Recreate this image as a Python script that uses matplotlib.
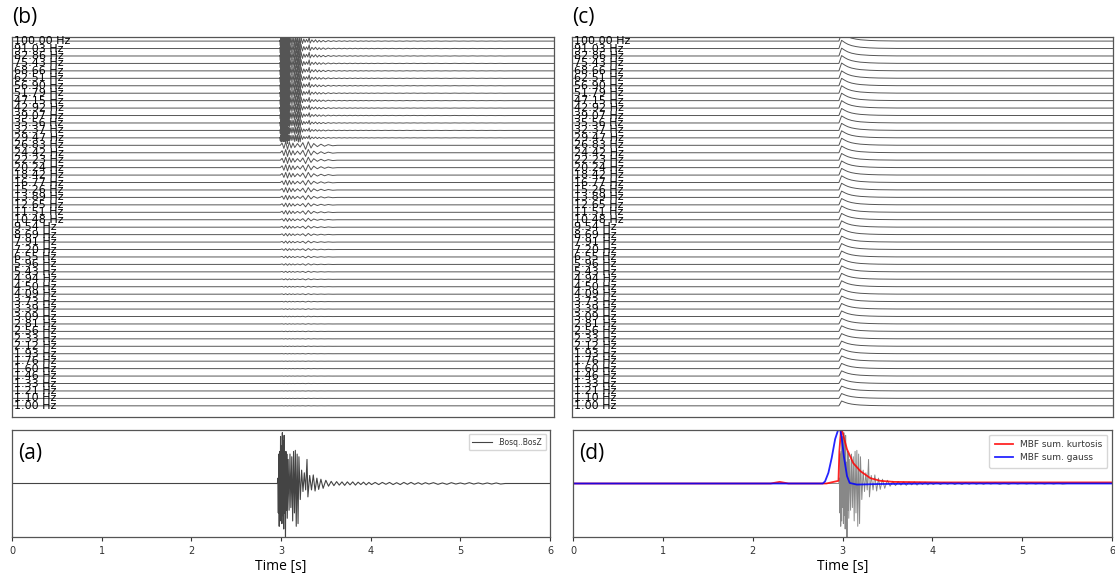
import numpy as np
import matplotlib
matplotlib.use('Agg')
import matplotlib.pyplot as plt
import matplotlib.transforms as mtransforms

# filter bank centre frequencies (labels of the traces in b and c)
freqs = [100.00, 91.03, 82.86, 75.43, 68.66, 62.51, 56.90, 51.79, 47.15, 42.92,
         39.07, 35.56, 32.37, 29.47, 26.83, 24.42, 22.23, 20.24, 18.42, 16.77,
         15.26, 13.89, 12.65, 11.51, 10.48, 9.54, 8.69, 7.91, 7.20, 6.55,
         5.96, 5.43, 4.94, 4.50, 4.09, 3.73, 3.39, 3.09, 2.81, 2.56,
         2.33, 2.12, 1.93, 1.76, 1.60, 1.46, 1.33, 1.21, 1.10, 1.00]

# raw seismogram (extremes)
sig_t = [0.0, 2.96, 2.965, 2.970, 2.975, 2.980, 2.985, 2.990, 2.995, 3.000,
         3.005, 3.010, 3.015, 3.020, 3.025, 3.030, 3.035, 3.040, 3.045, 3.050,
         3.055, 3.060, 3.065, 3.070, 3.080, 3.090, 3.100, 3.110, 3.120, 3.130,
         3.140, 3.150, 3.160, 3.170, 3.180, 3.190, 3.200, 3.215, 3.230, 3.245,
         3.260, 3.275, 3.290, 3.300, 3.320, 3.340, 3.360, 3.380, 3.400, 3.420,
         3.445, 3.470, 3.500, 3.530, 3.560, 3.590, 3.620, 3.650, 3.680, 3.710,
         3.740, 3.770, 3.800, 3.830, 3.860, 3.890, 3.920, 3.950, 3.980, 4.010,
         4.050, 4.090, 4.130, 4.170, 4.210, 4.250, 4.290, 4.330, 4.370, 4.410,
         4.450, 4.490, 4.530, 4.570, 4.610, 4.650, 4.700, 4.750, 4.800, 4.850,
         4.900, 4.950, 5.000, 5.050, 5.100, 5.150, 5.200, 5.250, 5.300, 5.350,
         5.400, 5.450, 5.500, 6.0]
sig_v = [0.0, 0.0, 0.10, -0.55, 0.55, -0.80, 0.60, -0.70, 0.88, -0.45,
         0.70, -0.75, 0.95, -0.60, 0.80, -0.85, 0.90, -0.55, 0.40, -1.05,
         0.60, -0.50, 0.55, -0.65, 0.45, -0.50, 0.55, -0.45, 0.50, -0.70,
         0.60, -0.55, 0.62, -0.80, 0.55, -0.75, 0.50, -0.30, 0.25, -0.15,
         0.20, -0.12, 0.45, -0.25, 0.15, -0.12, 0.16, -0.14, 0.10, -0.11,
         0.08, -0.09, 0.06, -0.05, 0.04, -0.04, 0.035, -0.03, 0.03, -0.035,
         0.03, -0.025, 0.03, -0.03, 0.025, -0.02, 0.025, -0.025, 0.02, -0.02,
         0.02, -0.02, 0.02, -0.015, 0.02, -0.02, 0.015, -0.02, 0.02, -0.015,
         0.02, -0.015, 0.015, -0.015, 0.015, -0.01, 0.015, -0.015, 0.01, -0.015,
         0.015, -0.01, 0.01, -0.01, 0.015, -0.01, 0.01, -0.01, 0.01, -0.01,
         0.01, -0.01, 0.0, 0.0]

# slower wiggle seen on the mid/low frequency traces of panel b
wig_t = [0.0, 2.97, 2.99, 3.01, 3.03, 3.05, 3.07, 3.09, 3.11, 3.13, 3.16, 3.19,
         3.22, 3.25, 3.28, 3.31, 3.34, 3.38, 3.42, 3.46, 3.50, 3.55, 3.60, 6.0]
wig_v = [0.0, 0.0, 0.5, -0.7, 0.8, -0.9, 0.7, -0.6, 0.5, -0.5, 0.4, -0.4,
         0.6, -0.9, 0.8, -0.6, 0.4, -0.3, 0.25, -0.2, 0.15, -0.1, 0.0, 0.0]

# amplitude of each filtered trace in panel b (trace spacings)
amp_b = [1.1, 1.1, 1.1, 1.05, 1.05, 1.0, 1.0, 0.95, 0.95, 0.9,
         0.85, 0.8, 0.75, 0.7, 0.6, 0.55, 0.5, 0.5, 0.45, 0.4,
         0.4, 0.35, 0.3, 0.3, 0.25, 0.22, 0.2, 0.18, 0.16, 0.14,
         0.12, 0.1, 0.09, 0.08, 0.07, 0.06, 0.05, 0.05, 0.04, 0.04,
         0.03, 0.03, 0.03, 0.02, 0.02, 0.02, 0.02, 0.02, 0.02, 0.02]

# characteristic function shape (panel c) and its height per band
cf_t = [0.0, 2.960, 2.975, 2.990, 3.010, 3.030, 3.060, 3.100, 3.150, 3.200,
        3.300, 3.400, 3.600, 6.0]
cf_v = [0.0, 0.0, 0.5, 1.0, 0.85, 0.70, 0.52, 0.36, 0.24, 0.16,
        0.08, 0.04, 0.01, 0.0]
amp_c = [1.1, 1.1, 1.05, 1.05, 1.05, 1.0, 1.0, 1.0, 1.0, 1.0,
         0.95, 0.95, 0.95, 0.95, 0.95, 0.9, 0.9, 0.9, 0.9, 0.9,
         0.9, 0.85, 0.85, 0.85, 0.85, 0.85, 0.85, 0.8, 0.8, 0.8,
         0.8, 0.8, 0.8, 0.8, 0.75, 0.75, 0.75, 0.75, 0.75, 0.75,
         0.7, 0.7, 0.7, 0.7, 0.7, 0.7, 0.65, 0.65, 0.65, 0.65]

# summed characteristic functions (panel d)
kurt_t = [0.0, 2.20, 2.30, 2.40, 2.82, 2.90, 2.955, 2.965, 2.985, 3.05,
          3.12, 3.20, 3.31, 3.42, 3.57, 4.10, 4.20, 5.00, 6.0]
kurt_v = [0.0, 0.0, 0.03, 0.0, 0.0, 0.03, 0.05, 0.6, 1.05, 0.64,
          0.38, 0.23, 0.10, 0.05, 0.03, 0.02, 0.02, 0.02, 0.02]
gauss_t = [0.0, 2.78, 2.806, 2.843, 2.88, 2.918, 2.955, 2.97, 2.99, 3.016,
           3.05, 3.08, 3.16, 3.40, 4.00, 6.0]
gauss_v = [0.0, 0.0, 0.04, 0.2, 0.48, 0.83, 1.02, 1.05, 0.87, 0.5,
           0.14, 0.01, -0.02, -0.01, 0.0, 0.0]

W, H = 1115, 573
fig = plt.figure(figsize=(W / 100, H / 100), dpi=100)


def box(x0, y0, x1, y1):
    return [x0 / W, 1 - y1 / H, (x1 - x0) / W, (y1 - y0) / H]


def style(ax):
    for s in ax.spines.values():
        s.set_color('#555555')
        s.set_linewidth(0.9)


def bank(ax, t, shapes, amps):
    n = len(freqs)
    trans = mtransforms.blended_transform_factory(ax.transAxes, ax.transData)
    for i in range(n):
        off = n - 1 - i
        ax.plot(t[i], off + amps[i] * np.asarray(shapes[i]), color='#555555', lw=0.7)
        ax.text(0.003, off, '%.2f Hz' % freqs[i], transform=trans, fontsize=8,
                va='center', ha='left', color='black', zorder=5)
    ax.set_xlim(0, 6)
    ax.set_ylim(-1.5, n - 1 + 0.55)
    ax.set_xticks([])
    ax.set_yticks([])
    style(ax)


ax_b = fig.add_axes(box(12, 37, 554, 417))
ax_c = fig.add_axes(box(572, 37, 1113, 417))
ax_a = fig.add_axes(box(12, 430, 550, 537))
ax_d = fig.add_axes(box(573, 430, 1112, 537))

t_b = [sig_t if i < 14 else wig_t for i in range(len(freqs))]
s_b = [sig_v if i < 14 else wig_v for i in range(len(freqs))]
bank(ax_b, t_b, s_b, amp_b)
bank(ax_c, [cf_t] * len(freqs), [cf_v] * len(freqs), amp_c)

ax_a.plot(sig_t, sig_v, color='#444444', lw=0.8, label='.Bosq..BosZ')
ax_a.legend(loc='upper right', fontsize=5.5, frameon=True, handlelength=2.5,
            labelcolor='#333333', borderpad=0.5)

ax_d.plot(sig_t, sig_v, color='#888888', lw=0.7)
ax_d.plot(kurt_t, kurt_v, color='red', lw=1.3, alpha=0.85, label='MBF sum. kurtosis')
ax_d.plot(gauss_t, gauss_v, color='blue', lw=1.3, alpha=0.85, label='MBF sum. gauss')
ax_d.legend(loc='upper right', fontsize=6.5, frameon=True, handlelength=2.0,
            labelcolor='#333333', borderpad=0.6)

for ax in (ax_a, ax_d):
    ax.set_xlim(0, 6)
    ax.set_ylim(-1.0, 1.0)
    ax.set_yticks([])
    ax.set_xticks(range(7))
    ax.tick_params(axis='x', labelsize=7, colors='#333333', length=3, width=0.8)
    ax.set_xlabel('Time [s]', fontsize=10, family='Open Sans', labelpad=2)
    style(ax)

fig.text(12 / W, 1 - 17 / H, '(b)', fontsize=15, family='Open Sans', va='center')
fig.text(572 / W, 1 - 17 / H, '(c)', fontsize=15, family='Open Sans', va='center')
ax_a.text(0.012, 0.78, '(a)', transform=ax_a.transAxes, fontsize=15,
          family='Open Sans', va='center')
ax_d.text(0.012, 0.78, '(d)', transform=ax_d.transAxes, fontsize=15,
          family='Open Sans', va='center')

fig.savefig('out.png', dpi=100)
